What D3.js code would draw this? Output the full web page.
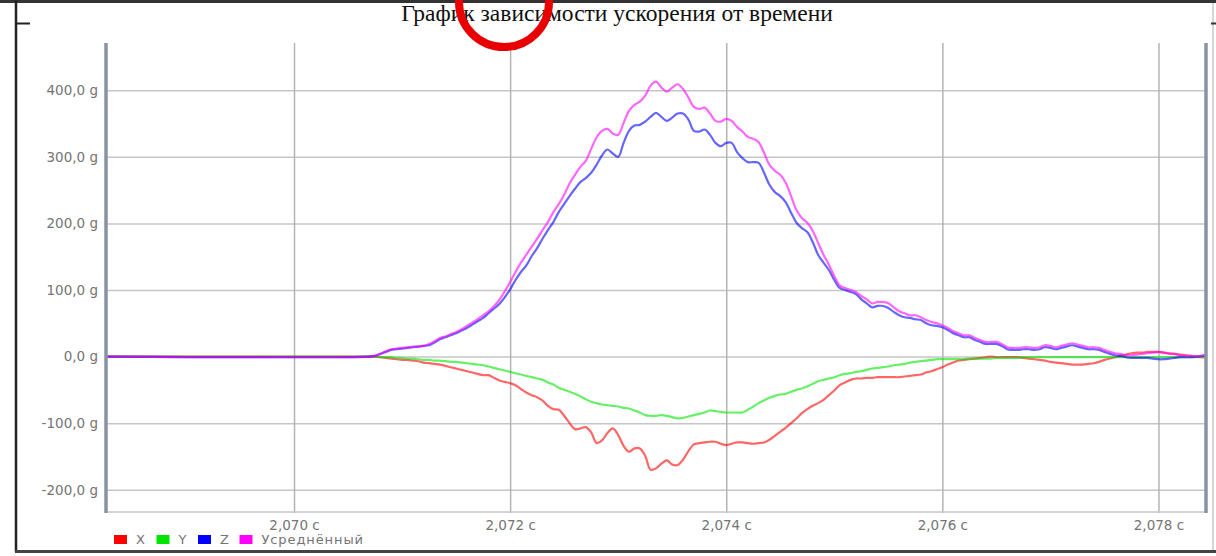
<!DOCTYPE html>
<meta charset="utf-8">
<style>
body { margin: 0; background: #fff; }
svg { display: block; }
.axis text { font-family: "DejaVu Sans", sans-serif; font-size: 13.5px; fill: #747474; }
.axis .domain { display: none; }
.legend text { font-family: "DejaVu Sans", sans-serif; font-size: 13px; letter-spacing: 0.9px; fill: #747474; }
</style>
<body>
<script src="https://d3js.org/d3.v7.min.js"></script>
<script>

// time, s (first point is the left edge, then 0.05 ms samples)
var time = [2.06826,
  2.07070, 2.07075, 2.07080, 2.07085, 2.07090, 2.07095, 2.07100, 2.07105, 2.07110, 2.07115,
  2.07120, 2.07125, 2.07130, 2.07135, 2.07140, 2.07145, 2.07150, 2.07155, 2.07160, 2.07165,
  2.07170, 2.07175, 2.07180, 2.07185, 2.07190, 2.07195, 2.07200, 2.07205, 2.07210, 2.07215,
  2.07220, 2.07225, 2.07230, 2.07235, 2.07240, 2.07245, 2.07250, 2.07255, 2.07260, 2.07265,
  2.07270, 2.07275, 2.07280, 2.07285, 2.07290, 2.07295, 2.07300, 2.07305, 2.07310, 2.07315,
  2.07320, 2.07325, 2.07330, 2.07335, 2.07340, 2.07345, 2.07350, 2.07355, 2.07360, 2.07365,
  2.07370, 2.07375, 2.07380, 2.07385, 2.07390, 2.07395, 2.07400, 2.07405, 2.07410, 2.07415,
  2.07420, 2.07425, 2.07430, 2.07435, 2.07440, 2.07445, 2.07450, 2.07455, 2.07460, 2.07465,
  2.07470, 2.07475, 2.07480, 2.07485, 2.07490, 2.07495, 2.07500, 2.07505, 2.07510, 2.07515,
  2.07520, 2.07525, 2.07530, 2.07535, 2.07540, 2.07545, 2.07550, 2.07555, 2.07560, 2.07565,
  2.07570, 2.07575, 2.07580, 2.07585, 2.07590, 2.07595, 2.07600, 2.07605, 2.07610, 2.07615,
  2.07620, 2.07625, 2.07630, 2.07635, 2.07640, 2.07645, 2.07650, 2.07655, 2.07660, 2.07665,
  2.07670, 2.07675, 2.07680, 2.07685, 2.07690, 2.07695, 2.07700, 2.07705, 2.07710, 2.07715,
  2.07720, 2.07725, 2.07730, 2.07735, 2.07740, 2.07745, 2.07750, 2.07755, 2.07760, 2.07765,
  2.07770, 2.07775, 2.07780, 2.07785, 2.07790, 2.07795, 2.07800, 2.07805, 2.07810, 2.07815,
  2.07820, 2.07825, 2.07830, 2.07835, 2.07840, 2.07845];

// acceleration, g
var accX = [0,
  0, 0, -1, -2, -3, -4, -5, -5, -6, -7,
  -9, -10, -11, -12, -14, -16, -18, -20, -22, -24,
  -26, -28, -28, -32, -36, -38, -40, -43, -49, -54,
  -58, -61, -66, -74, -79, -80, -89, -100, -109, -108,
  -106, -114, -130, -126, -115, -108, -118, -134, -143, -138,
  -138, -149, -170, -168, -161, -156, -162, -163, -155, -142,
  -132, -130, -129, -128, -128, -131, -133, -131, -129, -129,
  -130, -131, -130, -129, -125, -119, -113, -107, -100, -93,
  -85, -79, -74, -70, -65, -58, -51, -43, -39, -35,
  -33, -33, -32, -32, -31, -31, -31, -31, -31, -30,
  -29, -28, -27, -24, -22, -19, -16, -12, -9, -6,
  -5, -4, -3, -2, -1, 0, -1, -1, -1, -1,
  -1, -2, -3, -4, -5, -6, -8, -9, -10, -11,
  -12, -12, -12, -11, -10, -8, -5, -3, -1, 1,
  3, 5, 6, 6, 7, 7, 7, 6, 5, 4,
  3, 2, 1, 0, -1, -1];

var accY = [0,
  0, 0, -1, -1, -1, -2, -2, -3, -3, -4,
  -5, -5, -6, -6, -7, -8, -8, -9, -10, -11,
  -12, -13, -15, -17, -19, -21, -23, -25, -27, -29,
  -31, -33, -35, -39, -42, -47, -50, -53, -56, -60,
  -64, -68, -70, -72, -73, -74, -75, -77, -78, -81,
  -84, -88, -89, -89, -88, -89, -91, -93, -92, -90,
  -88, -86, -84, -81, -82, -83, -84, -84, -84, -84,
  -80, -75, -70, -66, -62, -59, -57, -56, -53, -50,
  -48, -45, -41, -37, -35, -33, -31, -28, -26, -25,
  -23, -22, -20, -18, -17, -16, -15, -13, -12, -11,
  -9, -8, -7, -6, -5, -4, -4, -4, -4, -4,
  -4, -3, -3, -3, -3, -3, -2, -2, -2, -2,
  -2, -1, -1, -1, -1, -1, -1, -1, -1, -1,
  -1, -1, -1, -1, -1, -1, -1, -1, -1, -1,
  -1, -1, -1, -1, -1, -1, -1, -1, -1, -1,
  -1, -1, -1, -1, -1, 0];

var accZ = [0,
  0, 1, 4, 7, 10, 11, 12, 13, 14, 15,
  16, 17, 21, 26, 29, 32, 35, 39, 43, 48,
  53, 58, 65, 72, 79, 89, 101, 115, 127, 137,
  151, 163, 177, 190, 202, 217, 229, 241, 252, 262,
  268, 276, 288, 302, 311, 305, 300, 321, 339, 347,
  348, 353, 360, 366, 360, 354, 359, 365, 365, 356,
  339, 338, 341, 333, 321, 316, 321, 321, 307, 298,
  292, 292, 291, 276, 258, 247, 241, 232, 216, 201,
  193, 187, 172, 153, 141, 130, 115, 103, 100, 97,
  94, 86, 80, 74, 76, 76, 73, 67, 62, 59,
  58, 56, 55, 50, 47, 46, 44, 40, 35, 32,
  29, 29, 25, 22, 19, 19, 19, 16, 11, 10,
  10, 11, 11, 10, 11, 14, 13, 11, 13, 15,
  17, 15, 13, 11, 11, 10, 7, 4, 2, 1,
  -1, -2, -2, -2, -2, -3, -4, -4, -3, -2,
  -1, -1, -1, 0, 1, 2];

var accAvg = [0,
  0, 1, 4, 8, 11, 12, 13, 14, 15, 15,
  16, 19, 23, 28, 30, 34, 37, 41, 46, 51,
  56, 62, 68, 76, 85, 98, 112, 127, 141, 153,
  165, 177, 190, 202, 217, 229, 243, 260, 273, 285,
  294, 312, 329, 339, 342, 335, 333, 351, 369, 378,
  383, 392, 407, 413, 404, 398, 404, 409, 402, 389,
  375, 372, 374, 365, 354, 353, 357, 354, 345, 338,
  330, 327, 322, 306, 288, 279, 273, 261, 241, 220,
  208, 201, 189, 171, 153, 138, 121, 107, 103, 100,
  97, 91, 86, 80, 82, 82, 80, 74, 68, 65,
  62, 62, 59, 55, 52, 50, 47, 43, 38, 35,
  32, 32, 28, 25, 22, 22, 22, 19, 14, 13,
  13, 14, 14, 13, 14, 17, 16, 14, 16, 18,
  20, 18, 16, 14, 14, 13, 10, 7, 5, 4,
  2, 2, 3, 4, 5, 6, 7, 6, 4, 4,
  2, 1, 1, 0, 1, 4];

var seriesNames = ["X", "Y", "Z", "Усреднённый"];
var seriesColors = ["#ff0000", "#00e600", "#0000ff", "#ff00ff"];
var yTicks = [-200, -100, 0, 100, 200, 300, 400];
var xTicks = [2.070, 2.072, 2.074, 2.076, 2.078];

var W = 1216, H = 556;
var plot = {left: 106, right: 1206, top: 43, bottom: 513};

var loc = d3.formatLocale({decimal: ",", thousands: " ", grouping: [3], currency: ["", ""], minus: "-"});
var fmtY = loc.format(".1f"), fmtX = loc.format(".3f");

var x = d3.scaleLinear().domain([2.06826, 2.07844]).range([plot.left, plot.right]);
var y = d3.scaleLinear().domain([-235, 471]).range([plot.bottom, plot.top]);

var svg = d3.select("body").append("svg")
    .attr("width", W)
    .attr("height", H);

// frame left over from the page around the chart
svg.append("line").attr("x1", 0).attr("x2", W).attr("y1", 1.5).attr("y2", 1.5)
    .attr("stroke", "#333").attr("stroke-width", 3);
svg.append("line").attr("x1", 16).attr("x2", 16).attr("y1", 0).attr("y2", 552)
    .attr("stroke", "#222").attr("stroke-width", 2.5);
svg.append("line").attr("x1", 16).attr("x2", 30).attr("y1", 23.5).attr("y2", 23.5)
    .attr("stroke", "#222").attr("stroke-width", 2);
svg.append("line").attr("x1", 1213).attr("x2", 1213).attr("y1", 3).attr("y2", 550)
    .attr("stroke", "#c8c8c8").attr("stroke-width", 1.5);
svg.append("line").attr("x1", 1211).attr("x2", 1216).attr("y1", 23.5).attr("y2", 23.5)
    .attr("stroke", "#333").attr("stroke-width", 2);
svg.append("line").attr("x1", 15).attr("x2", W).attr("y1", 551.5).attr("y2", 551.5)
    .attr("stroke", "#444").attr("stroke-width", 3);

// Y axis + horizontal grid
svg.append("g")
    .attr("class", "axis")
    .attr("transform", "translate(" + plot.left + ",0)")
    .call(d3.axisLeft(y).tickValues(yTicks)
      .tickSize(-(plot.right - plot.left)).tickPadding(8)
      .tickFormat(function(d) { return fmtY(d) + " g"; }))
    .selectAll(".tick line").attr("stroke", "#c6c6c6").attr("stroke-width", 1.5);

// X axis + vertical grid
svg.append("g")
    .attr("class", "axis")
    .attr("transform", "translate(0," + plot.bottom + ")")
    .call(d3.axisBottom(x).tickValues(xTicks)
      .tickSize(-(plot.bottom - plot.top)).tickPadding(7)
      .tickFormat(function(d) { return fmtX(d) + " с"; }))
    .selectAll(".tick line").attr("stroke", "#b4b4b4").attr("stroke-width", 1.5);

// bottom border of the plot
svg.append("line").attr("x1", plot.left).attr("x2", plot.right)
    .attr("y1", plot.bottom - 1).attr("y2", plot.bottom - 1)
    .attr("stroke", "#c6c6c6").attr("stroke-width", 1.5);

svg.append("clipPath").attr("id", "clip")
  .append("rect")
    .attr("x", plot.left).attr("y", plot.top)
    .attr("width", plot.right - plot.left).attr("height", plot.bottom - plot.top);

var line = d3.line()
    .x(function(d, i) { return x(time[i]); })
    .y(function(d) { return y(d); })
    .curve(d3.curveCatmullRom);

var series = [accX, accY, accZ, accAvg];
svg.append("g")
    .attr("clip-path", "url(#clip)")
  .selectAll("path")
  .data(series)
  .enter().append("path")
    .attr("d", line)
    .attr("fill", "none")
    .attr("stroke", function(d, i) { return seriesColors[i]; })
    .attr("stroke-opacity", 0.6)
    .attr("stroke-width", 2.2);

// slate axis bars on both sides
[plot.left, plot.right].forEach(function(px) {
  svg.append("line").attr("x1", px).attr("x2", px)
      .attr("y1", plot.top).attr("y2", plot.bottom)
      .attr("stroke", "#8793a5").attr("stroke-width", 3.5);
});

// legend
var legend = svg.append("g")
    .attr("class", "legend")
  .selectAll("g")
  .data(seriesNames)
  .enter().append("g")
    .attr("transform", function(d, i) { return "translate(" + [114, 156.5, 198, 239.5][i] + ",535)"; });

legend.append("rect")
    .attr("width", 13)
    .attr("height", 9)
    .attr("fill", function(d, i) { return seriesColors[i]; });

legend.append("text")
    .attr("x", 22)
    .attr("y", 9)
    .text(function(d) { return d; });

// title
svg.append("text")
    .attr("x", 617)
    .attr("y", 21)
    .attr("text-anchor", "middle")
    .style("font-family", "'Liberation Serif', serif")
    .style("font-size", "23.5px")
    .style("fill", "#111")
    .text("График зависимости ускорения от времени");

// red marker circle over the title
svg.append("ellipse")
    .attr("cx", 504).attr("cy", 2)
    .attr("rx", 45).attr("ry", 45)
    .attr("fill", "none")
    .attr("stroke", "#e80000")
    .attr("stroke-width", 8);

</script>
</body>
